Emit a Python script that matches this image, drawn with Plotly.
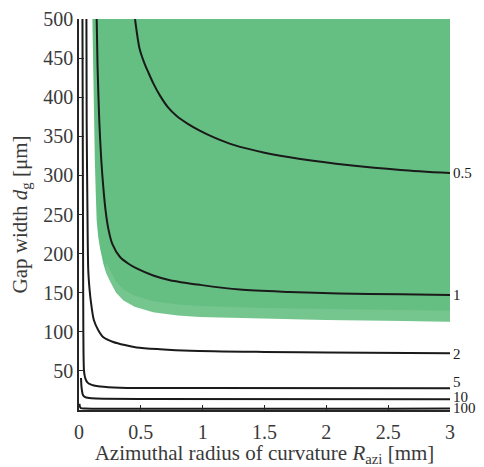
import plotly.graph_objects as go

# Feasible (green) region lower boundary
region_x = [0.108, 0.112, 0.116, 0.12, 0.128, 0.135, 0.143, 0.155, 0.17, 0.197, 0.22, 0.25,
            0.3, 0.36, 0.45, 0.6, 0.8, 0.98, 1.5, 2.0, 2.5, 3.0]
region_y = [500, 450, 400, 369, 320, 280, 242, 222, 207, 187, 175, 165,
            150, 140, 132, 125, 121, 119, 116.5, 115, 114, 113]

# Contour lines
c05_x = [0.453, 0.49, 0.53, 0.56, 0.6, 0.655, 0.72, 0.79, 0.88, 0.98, 1.1, 1.25, 1.5, 1.79, 2.19, 2.6, 3.0]
c05_y = [500, 462, 443, 432, 418, 402, 387, 376, 366, 357, 348, 339, 329, 321, 313, 307, 303]

c1_x = [0.143, 0.15, 0.164, 0.18, 0.197, 0.215, 0.237, 0.27, 0.33, 0.4, 0.466, 0.6, 0.735, 0.98,
        1.3, 1.7, 2.1, 2.6, 3.0]
c1_y = [500, 440, 370, 320, 284, 255, 232, 212, 196, 187, 181, 172, 166, 160,
        154, 151, 149, 148, 147]

c2_x = [0.06, 0.062, 0.068, 0.075, 0.085, 0.095, 0.12, 0.156, 0.197, 0.277, 0.37, 0.466, 0.655,
        0.9, 1.5, 2.0, 3.0]
c2_y = [500, 369, 260, 178, 155, 140, 115, 102, 93, 87, 83, 80, 77.7,
        75.8, 74.2, 73.4, 72.5]

c5_x = [0.028, 0.033, 0.035, 0.04, 0.047, 0.057, 0.07, 0.089, 0.12, 0.17, 0.33, 1.0, 3.0]
c5_y = [500, 200, 102, 51, 43, 38, 35, 33, 31.3, 30, 28.5, 28, 27.8]

c10_x = [0.016, 0.018, 0.02, 0.025, 0.03, 0.04, 0.05, 0.07, 0.1, 0.2, 0.5, 3.0]
c10_y = [41, 35, 30, 24, 20, 17.5, 16.5, 15.6, 15, 14.4, 14, 13.6]

c100_x = [0.004, 0.008, 0.015, 0.05, 3.0]
c100_y = [8, 4, 2.5, 2, 2]

levels = ["0.5", "1", "2", "5", "10", "100"]
label_y = [303, 147, 72, 36, 16, 3]

x_ticks = [0, 0.5, 1, 1.5, 2, 2.5, 3]
x_tick_text = ["0", "0.5", "1", "1.5", "2", "2.5", "3"]
y_ticks = [50, 100, 150, 200, 250, 300, 350, 400, 450, 500]

FONT = "Liberation Serif"
GREEN = "rgb(102,191,130)"
TXT = "#3a3a3a"

fig = go.Figure()

poly_x = region_x + [3.0, region_x[0]]
poly_y = region_y + [500, 500]
fig.add_trace(go.Scatter(x=poly_x, y=poly_y, mode="lines", fill="toself",
                         fillcolor=GREEN, line=dict(width=0),
                         hoverinfo="skip", showlegend=False))

# lighter shading band along the lower edge of the region
band_idx = [i for i, v in enumerate(region_x) if v >= 0.2]
band_x = [region_x[i] for i in band_idx]
band_lo = [region_y[i] for i in band_idx]
band_hi = [region_y[i] + 14 for i in band_idx]
fig.add_trace(go.Scatter(x=band_x + band_x[::-1], y=band_lo + band_hi[::-1], mode="lines",
                         fill="toself", fillcolor="rgba(255,255,255,0.10)", line=dict(width=0),
                         hoverinfo="skip", showlegend=False))

curves = [(c05_x, c05_y), (c1_x, c1_y), (c2_x, c2_y), (c5_x, c5_y), (c10_x, c10_y), (c100_x, c100_y)]
for cx, cy in curves:
    fig.add_trace(go.Scatter(x=cx, y=cy, mode="lines",
                             line=dict(color="#1a1a1a", width=2, shape="spline", smoothing=0.8),
                             hoverinfo="skip", showlegend=False))

for lab, ly in zip(levels, label_y):
    fig.add_annotation(x=3, y=ly, text=lab, showarrow=False, xanchor="left",
                       xshift=1, yanchor="middle",
                       font=dict(family=FONT, size=15, color="#1a1a1a"))

fig.update_layout(
    width=476, height=459,
    margin=dict(l=71, r=34, t=11, b=57),
    plot_bgcolor="white", paper_bgcolor="white",
    font=dict(family=FONT, color=TXT),
)
fig.update_xaxes(range=[0, 3], tickvals=x_ticks, ticktext=x_tick_text, automargin=False,
                 ticks="inside", ticklen=5, tickcolor="#262626", ticklabelstandoff=3,
                 showline=True, linecolor="#262626", linewidth=1.5,
                 showgrid=False, zeroline=False,
                 tickfont=dict(family=FONT, size=20, color=TXT),
                 title=dict(text="Azimuthal radius of curvature <i>R</i><sub>azi</sub> [mm]",
                            font=dict(family=FONT, size=21, color=TXT), standoff=8))
fig.update_yaxes(range=[0, 500], tickvals=y_ticks, automargin=False,
                 ticks="inside", ticklen=5, tickcolor="#262626",
                 showline=True, linecolor="#262626", linewidth=1.5,
                 showgrid=False, zeroline=False,
                 tickfont=dict(family=FONT, size=20, color=TXT),
                 title=dict(text="Gap width <i>d</i><sub>g</sub> [μm]",
                            font=dict(family=FONT, size=21, color=TXT), standoff=18))

fig.write_html("out.html")
